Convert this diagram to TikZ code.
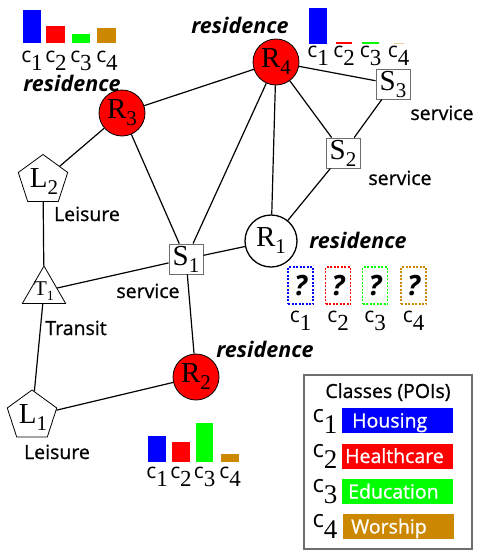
\documentclass[tikz,border=0pt]{standalone}
\usepackage{fontspec}
\setmainfont{Liberation Serif}
\newfontfamily\osans{Open Sans}
\newfontfamily\osansm[FakeBold=0.9]{Open Sans}
\usetikzlibrary{shapes.geometric}
\definecolor{cA}{RGB}{0,0,255}
\definecolor{cB}{RGB}{255,0,0}
\definecolor{cC}{RGB}{0,255,0}
\definecolor{cD}{RGB}{204,136,0}
\definecolor{boxgray}{RGB}{110,110,110}
\newcommand\nlab[2]{{\fontsize{29}{29}\selectfont #1}\raisebox{-7pt}{\fontsize{21}{21}\selectfont #2}}
\newcommand\tlab[2]{{\fontsize{21}{21}\selectfont #1}\raisebox{-5pt}{\fontsize{14}{14}\selectfont #2}}
\newcommand\clab[1]{{\osans\fontsize{21}{21}\selectfont c}\raisebox{-8pt}{\fontsize{23}{23}\selectfont #1}}
\newcommand\clegend[1]{{\osans\fontsize{24}{24}\selectfont c}\raisebox{-11pt}{\fontsize{27}{27}\selectfont #1}}
\tikzset{
  edge/.style={line width=1.2pt, black},
  resnode/.style={circle, draw=black, line width=0.8pt, fill=cB, minimum size=46pt, inner sep=0pt},
  svcnode/.style={rectangle, draw=boxgray, line width=0.9pt, fill=white, minimum width=34pt, minimum height=30pt, inner sep=0pt},
  pentnode/.style={regular polygon, regular polygon sides=5, draw=black, line width=0.8pt, minimum size=52pt, inner sep=0pt},
  trinode/.style={regular polygon, regular polygon sides=3, draw=black, line width=0.8pt, minimum size=50pt, inner sep=0pt},
  txt/.style={inner sep=0pt},
  lbl/.style={font=\osansm\fontsize{19.5}{19.5}\selectfont, inner sep=0pt, anchor=base},
  hand/.style={font=\osans\bfseries\itshape\fontsize{21.5}{21.5}\selectfont, inner sep=0pt, anchor=base},
  cnode/.style={inner sep=0pt, anchor=base},
  qbox/.style={rectangle, dashed, dash pattern=on 2pt off 1.5pt, line width=1.2pt, minimum width=25pt, minimum height=37pt, inner sep=0pt, font=\osans\bfseries\itshape\fontsize{28}{28}\selectfont},
  legbox/.style={rectangle, minimum width=111pt, minimum height=25pt, inner sep=0pt},
  legtxt/.style={font=\osansm\fontsize{19.5}{19.5}\selectfont, text=white, inner sep=0pt, anchor=base west},
}
\begin{document}
\begin{tikzpicture}[x=1pt, y=-1pt]
\useasboundingbox[fill=white] (0,0) rectangle (483,552);

% nodes
\node[resnode] (R4) at (276,62) {\nlab{R}{4}};
\node[resnode] (R3) at (122,113) {\nlab{R}{3}};
\node[resnode, fill=white, line width=1.3pt, minimum size=52pt] (R1) at (271,241) {\nlab{R}{1}};
\node[resnode] (R2) at (196,377) {\nlab{R}{2}};
\node[svcnode] (S3) at (393,84) {\nlab{S}{3}};
\node[svcnode] (S2) at (343,153) {\nlab{S}{2}};
\node[svcnode] (S1) at (186,259) {\nlab{S}{1}};
\node[pentnode] (L2) at (43,180.5) {};
\node[txt] (L2t) at (44,182) {\nlab{L}{2}};
\node[pentnode] (L1) at (32,416) {};
\node[txt] (L1t) at (33,417) {\nlab{L}{1}};
\node[trinode] (T1) at (44,291) {};
\node[txt] (T1t) at (44,291) {\tlab{T}{1}};

% edges
\draw[edge] (R4) -- (R3);
\draw[edge] (R4) -- (S3);
\draw[edge] (R4) -- (S2);
\draw[edge] (R4) -- (R1);
\draw[edge] (R4) -- (S1);
\draw[edge] (S3) -- (S2);
\draw[edge] (S2) -- (R1);
\draw[edge] (R3) -- (S1);
\draw[edge] (R3) -- (L2);
\draw[edge] (L2) -- (T1);
\draw[edge] (T1) -- (S1);
\draw[edge] (S1) -- (R1);
\draw[edge] (S1) -- (R2);
\draw[edge] (T1) -- (L1);
\draw[edge] (L1) -- (R2);

% type labels
\node[hand] (h3) at (72,91) {residence};
\node[hand] (h4) at (240,33) {residence};
\node[hand] (h1) at (358,248) {residence};
\node[hand] (h2) at (265,357) {residence};
\node[lbl] (s3l) at (442,120) {service};
\node[lbl] (s2l) at (400,185) {service};
\node[lbl] (s1l) at (148,298) {service};
\node[lbl] (l2l) at (87,221) {Leisure};
\node[lbl] (t1l) at (76,335) {Transit};
\node[lbl] (l1l) at (57,459) {Leisure};

% bar chart R3
\fill[cA] (23,10) rectangle (41,43);
\fill[cB] (46,26) rectangle (65,43);
\fill[cC] (72,34) rectangle (90,43);
\fill[cD] (97,28) rectangle (116,43);
\node[cnode] (a1) at (32,62) {\clab{1}};
\node[cnode] (a2) at (56,62) {\clab{2}};
\node[cnode] (a3) at (81,62) {\clab{3}};
\node[cnode] (a4) at (107,62) {\clab{4}};

% bar chart R4
\fill[cA] (309,8) rectangle (327,44);
\fill[cB] (336,41.5) rectangle (352,44);
\fill[cC] (362,42) rectangle (379,44);
\fill[cD!40] (394,42.5) rectangle (404,44);
\node[cnode] (b1) at (318,57) {\clab{1}};
\node[cnode] (b2) at (344,57) {\clab{2}};
\node[cnode] (b3) at (370.5,57) {\clab{3}};
\node[cnode] (b4) at (398.5,57) {\clab{4}};

% bar chart R2
\fill[cA] (148,436) rectangle (166,462);
\fill[cB] (172,442) rectangle (190,462);
\fill[cC] (196,423) rectangle (213,462);
\fill[cD] (221,454) rectangle (239,462);
\node[cnode] (d1) at (157,478) {\clab{1}};
\node[cnode] (d2) at (181,478) {\clab{2}};
\node[cnode] (d3) at (204.5,478) {\clab{3}};
\node[cnode] (d4) at (230,478) {\clab{4}};

% unknown boxes R1
\node[qbox, draw=cA] (q1) at (300.5,285.5) {?};
\node[qbox, draw=cB] (q2) at (338,285.5) {?};
\node[qbox, draw=cC] (q3) at (375,285.5) {?};
\node[qbox, draw=cD] (q4) at (413.5,285.5) {?};
\node[cnode] (e1) at (300.5,322) {\clab{1}};
\node[cnode] (e2) at (338,322) {\clab{2}};
\node[cnode] (e3) at (375,322) {\clab{3}};
\node[cnode] (e4) at (413.5,322) {\clab{4}};

% legend
\node[draw=boxgray, line width=1.2pt, minimum width=168pt, minimum height=174pt, inner sep=0pt] (leg) at (388,462) {};
\node[lbl] (legt) at (388,398) {Classes (POIs)};
\node[cnode] (g1) at (325,422) {\clegend{1}};
\node[cnode] (g2) at (325,457) {\clegend{2}};
\node[cnode] (g3) at (325,492) {\clegend{3}};
\node[cnode] (g4) at (325,527) {\clegend{4}};
\node[legbox, fill=cA] (gb1) at (397.5,420.5) {};
\node[legbox, fill=cB] (gb2) at (397.5,456) {};
\node[legbox, fill=cC] (gb3) at (397.5,491.5) {};
\node[legbox, fill=cD] (gb4) at (398.5,526.5) {};
\node[legtxt] (gt1) at (352,427.5) {Housing};
\node[legtxt] (gt2) at (345,463) {Healthcare};
\node[legtxt] (gt3) at (348,498.5) {Education};
\node[legtxt] (gt4) at (351,533.5) {Worship};
\end{tikzpicture}
\end{document}
